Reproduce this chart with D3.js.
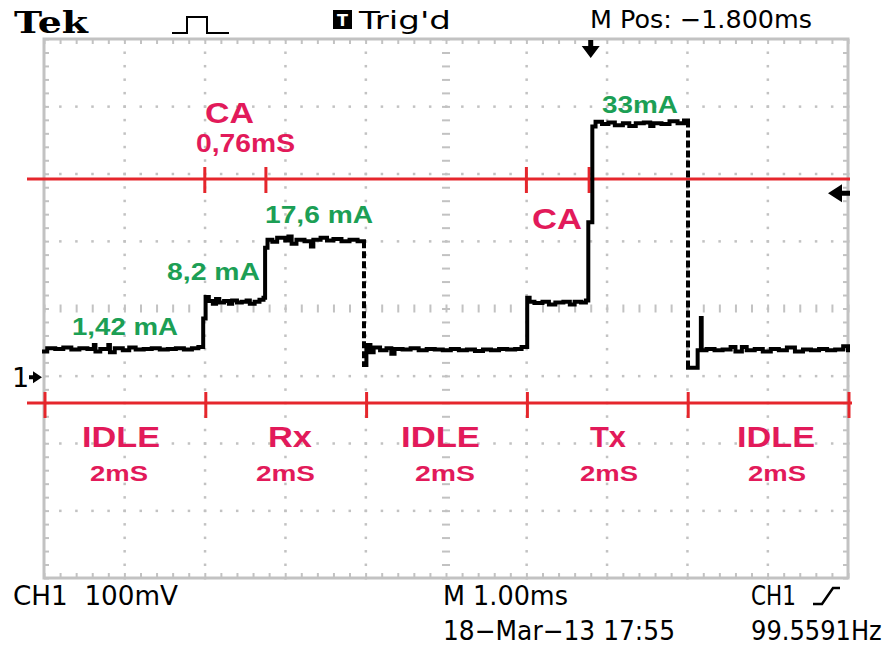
<!DOCTYPE html>
<html><head><meta charset="utf-8">
<script src="https://cdn.jsdelivr.net/npm/d3@7"></script>
<style>body{margin:0;background:#fff} svg{display:block} text{white-space:pre}</style>
</head><body><svg id="c" width="886" height="648"></svg>
<script>
// ---------- data ----------
// trace: [time (div), level (div)] step points read from the screen
const trace = [
[0.00,-0.64],[0.04,-0.59],[0.14,-0.60],[0.24,-0.58],[0.34,-0.61],[0.44,-0.59],[0.54,-0.60],[0.62,-0.54],[0.64,-0.64],[0.70,-0.60],[0.80,-0.54],[0.82,-0.65],[0.88,-0.59],[0.98,-0.62],[1.06,-0.58],[1.14,-0.61],[1.24,-0.60],[1.34,-0.59],[1.44,-0.61],[1.54,-0.60],[1.64,-0.59],[1.74,-0.61],[1.84,-0.59],[1.92,-0.57],[1.98,-0.15],[2.01,0.17],
[2.05,0.11],[2.10,0.07],[2.14,0.14],[2.18,0.09],[2.24,0.11],[2.30,0.07],[2.34,0.12],[2.40,0.09],[2.46,0.10],[2.52,0.12],[2.56,0.07],[2.62,0.10],[2.68,0.13],[2.73,0.16],[2.75,0.90],[2.78,1.02],
[2.84,0.99],[2.90,1.05],[3.00,1.01],[3.04,1.07],[3.08,0.96],[3.14,1.02],[3.24,1.00],[3.32,0.92],[3.35,1.02],[3.44,1.05],[3.52,1.01],[3.60,1.03],[3.70,1.00],[3.80,1.02],[3.90,1.00],[3.98,-0.84],[4.01,-0.54],
[4.06,-0.65],[4.10,-0.58],[4.18,-0.62],[4.26,-0.59],[4.32,-0.67],[4.36,-0.60],[4.46,-0.61],[4.56,-0.59],[4.66,-0.62],[4.76,-0.60],[4.86,-0.61],[4.96,-0.62],[5.06,-0.60],[5.16,-0.62],[5.26,-0.61],[5.36,-0.63],[5.46,-0.61],[5.56,-0.62],[5.66,-0.60],[5.76,-0.61],[5.86,-0.60],[5.94,-0.57],[6.01,0.16],[6.04,0.10],
[6.10,0.08],[6.20,0.10],[6.28,0.06],[6.36,0.09],[6.46,0.10],[6.54,0.06],[6.60,0.10],[6.68,0.09],[6.74,0.12],[6.77,1.28],[6.82,2.70],[6.86,2.77],
[6.94,2.74],[7.02,2.76],[7.10,2.72],[7.20,2.75],[7.28,2.71],[7.36,2.75],[7.46,2.76],[7.54,2.71],[7.58,2.75],[7.68,2.74],[7.78,2.78],[7.88,2.75],[7.96,2.79],[8.01,-0.88],[8.13,-0.62],[8.17,-0.14],[8.18,-0.62],
[8.24,-0.60],[8.34,-0.62],[8.44,-0.61],[8.54,-0.57],[8.60,-0.64],[8.68,-0.57],[8.74,-0.62],[8.84,-0.60],[8.94,-0.64],[9.04,-0.60],[9.14,-0.62],[9.24,-0.58],[9.34,-0.64],[9.44,-0.61],[9.54,-0.62],[9.64,-0.60],[9.74,-0.62],[9.84,-0.61],[9.94,-0.56],[10.0,-0.62]
];
const phaseMarks = [0, 2, 4, 6, 8, 10];
const phaseNames = ["IDLE", "Rx", "IDLE", "Tx", "IDLE"];
const phaseDurations = ["2mS", "2mS", "2mS", "2mS", "2mS"];
const caMarks = [2, 2.76, 6, 6.78];
const currentLabels = ["1,42 mA", "8,2 mA", "17,6 mA", "33mA"];
const caLabels = ["CA", "0,76mS", "CA"];
const headerTexts = ["Tek", "Trig'd", "M Pos: \u22121.800ms"];
const footerTexts = ["CH1  100mV", "M 1.00ms", "CH1", "18\u2212Mar\u221213 17:55", "99.5591Hz"];
const triggerTime = 6.8, triggerLevel = 1.71, groundLevel = -1.02;

// ---------- layout ----------
const svg = d3.select("#c");
const x = d3.scaleLinear().domain([0, 10]).range([44, 848]);
const y = d3.scaleLinear().domain([-4, 4]).range([578, 39]);
const RED = "#e5262c", CRIMSON = "#e21a5a", GREEN = "#1c9f55", GRID = "#c2c2c2";
const minorX = d3.range(0, 10.001, 0.2), minorY = d3.range(-4, 4.001, 0.2);

// graticule
const g = svg.append("g");
for (let k = 1; k < 10; k++) {
  if (k === 5) continue;
  minorY.forEach(v => g.append("rect").attr("x", x(k) - 1).attr("y", y(v) - 1).attr("width", 2.5).attr("height", 2.5).attr("fill", GRID));
}
for (let j = -3; j <= 3; j++) {
  if (j === 0) continue;
  minorX.forEach(t => g.append("rect").attr("x", x(t) - 1).attr("y", y(j) - 1).attr("width", 2.5).attr("height", 2.5).attr("fill", GRID));
}
// centre axes with longer ticks
g.append("g").attr("transform", `translate(0,${y(0) + 4})`)
  .call(d3.axisTop(x).tickValues(minorX).tickSize(8).tickFormat(""))
  .call(s => { s.select(".domain").remove(); s.selectAll("line").attr("stroke", GRID).attr("stroke-width", 2); });
g.append("g").attr("transform", `translate(${x(5) + 4},0)`)
  .call(d3.axisLeft(y).tickValues(minorY).tickSize(8).tickFormat(""))
  .call(s => { s.select(".domain").remove(); s.selectAll("line").attr("stroke", GRID).attr("stroke-width", 2); });
// border ticks
const bt = (axis, tr) => g.append("g").attr("transform", tr).call(axis)
  .call(s => { s.select(".domain").remove(); s.selectAll("line").attr("stroke", GRID).attr("stroke-width", 2); });
bt(d3.axisBottom(x).tickValues(minorX).tickSize(5).tickFormat(""), `translate(0,${y(4)})`);
bt(d3.axisTop(x).tickValues(minorX).tickSize(5).tickFormat(""), `translate(0,${y(-4)})`);
bt(d3.axisRight(y).tickValues(minorY).tickSize(5).tickFormat(""), `translate(${x(0)},0)`);
bt(d3.axisLeft(y).tickValues(minorY).tickSize(5).tickFormat(""), `translate(${x(10)},0)`);
g.append("rect").attr("x", x(0)).attr("y", y(4)).attr("width", x(10) - x(0)).attr("height", y(-4) - y(4))
  .attr("fill", "none").attr("stroke", GRID).attr("stroke-width", 3);

// red marker lines
const topLineY = 179, botLineY = 403;
svg.append("line").attr("x1", 27).attr("x2", 850).attr("y1", topLineY).attr("y2", topLineY).attr("stroke", RED).attr("stroke-width", 3);
svg.append("line").attr("x1", 27).attr("x2", 852).attr("y1", botLineY).attr("y2", botLineY).attr("stroke", RED).attr("stroke-width", 3);
svg.selectAll(".cam").data(caMarks).join("line").attr("x1", d => x(d)).attr("x2", d => x(d))
  .attr("y1", topLineY - 12).attr("y2", topLineY + 14).attr("stroke", RED).attr("stroke-width", 3);
svg.selectAll(".phm").data(phaseMarks).join("line").attr("x1", d => x(d) + 1).attr("x2", d => x(d) + 1)
  .attr("y1", botLineY - 11).attr("y2", botLineY + 15).attr("stroke", RED).attr("stroke-width", 3);

// trace
const solid = d3.path(), dashed = d3.path();
for (let i = 0; i < trace.length - 1; i++) {
  const [t0, v0] = trace[i], [t1, v1] = trace[i + 1];
  solid.moveTo(x(t0), y(v0)); solid.lineTo(x(t1), y(v0));
  const p = (v0 - v1 > 1) ? dashed : solid;
  p.moveTo(x(t1), y(v0)); p.lineTo(x(t1), y(v1));
}
svg.append("path").attr("d", solid.toString()).attr("fill", "none").attr("stroke", "#000").attr("stroke-width", 4).attr("stroke-linecap", "square");
svg.append("path").attr("d", dashed.toString()).attr("fill", "none").attr("stroke", "#000").attr("stroke-width", 4).attr("stroke-dasharray", "7,3");

// text helper
function txt(s, px, py, opt) {
  const t = svg.append("text").attr("x", px).attr("y", py).text(s)
    .attr("font-family", opt.family || "'Liberation Sans', Arial, sans-serif")
    .attr("font-size", opt.size).attr("font-weight", opt.weight || "normal")
    .attr("fill", opt.fill || "#000");
  if (opt.len) t.attr("textLength", opt.len).attr("lengthAdjust", "spacingAndGlyphs");
  if (opt.anchor) t.attr("text-anchor", opt.anchor);
  return t;
}
const SCOPE = "'DejaVu Sans', sans-serif";

// header
txt(headerTexts[0], 14, 33, { family: "'DejaVu Serif', serif", size: 30, weight: "bold", len: 74 });
svg.append("path").attr("d", "M172,33H187V17H207V33H229").attr("fill", "none").attr("stroke", "#000").attr("stroke-width", 2);
svg.append("rect").attr("x", 333).attr("y", 10).attr("width", 19).attr("height", 19).attr("fill", "#000");
txt("T", 342.5, 26, { family: SCOPE, size: 16, weight: "bold", fill: "#fff", anchor: "middle" });
txt(headerTexts[1], 359, 29, { family: SCOPE, size: 25, len: 92 });
txt(headerTexts[2], 590, 28, { family: SCOPE, size: 25, len: 222 });

// trigger position arrow (top) & trigger level arrow (right)
const tx = x(triggerTime);
svg.append("path").attr("d", `M${tx - 2.5},40H${tx + 2.5}V46H${tx + 9}L${tx},58L${tx - 9},46H${tx - 2.5}Z`).attr("fill", "#000");
const ty = y(triggerLevel);
svg.append("path").attr("d", `M828,${ty}L842,${ty - 9}V${ty - 2.5}H850V${ty + 2.5}H842V${ty + 9}Z`).attr("fill", "#000");
// ground marker
const gy = y(groundLevel);
txt("1", 12, gy + 10, { family: SCOPE, size: 27 });
svg.append("path").attr("d", `M29,${gy - 2}H33V${gy - 6}L42,${gy}L33,${gy + 6}V${gy + 2}H29Z`).attr("fill", "#000");

// footer
txt(footerTexts[0], 13, 605, { family: SCOPE, size: 26, len: 165 });
txt(footerTexts[1], 443, 605, { family: SCOPE, size: 26, len: 125 });
txt(footerTexts[2], 751, 605, { family: SCOPE, size: 26, len: 45 });
svg.append("path").attr("d", "M813,604H822L833,588H840").attr("fill", "none").attr("stroke", "#000").attr("stroke-width", 2.5);
txt(footerTexts[3], 443, 640, { family: SCOPE, size: 26, len: 232 });
// frequency readout: horizontally condensed so it stays inside the frame
svg.append("text").attr("transform", "translate(751,640) scale(0.93,1)").text(footerTexts[4])
  .attr("font-family", SCOPE).attr("font-size", 26).attr("fill", "#000");

// annotation labels
const B = { weight: "bold" };
txt(caLabels[0], 205, 123, { ...B, size: 29, fill: CRIMSON, len: 49 });
txt(caLabels[1], 196, 152, { ...B, size: 26, fill: CRIMSON, len: 99 });
txt(caLabels[2], 532, 229, { ...B, size: 30, fill: CRIMSON, len: 50 });
const curPos = [[72, 335, 106], [167, 280, 93], [265, 223, 108], [602, 113, 76]];
currentLabels.forEach((s, i) => txt(s, curPos[i][0], curPos[i][1], { ...B, size: 23, fill: GREEN, len: curPos[i][2] }));

// phase labels
const nameBox = [[82, 78], [268, 44], [401, 79], [590, 36], [737, 78]];
const durBox = [[90, 58], [256, 59], [415, 60], [580, 58], [748, 58]];
phaseNames.forEach((s, i) => txt(s, nameBox[i][0], 447, { ...B, size: 30, fill: CRIMSON, len: nameBox[i][1] }));
phaseDurations.forEach((s, i) => txt(s, durBox[i][0], 481, { ...B, size: 22, fill: CRIMSON, len: durBox[i][1] }));
</script>
</body></html>
